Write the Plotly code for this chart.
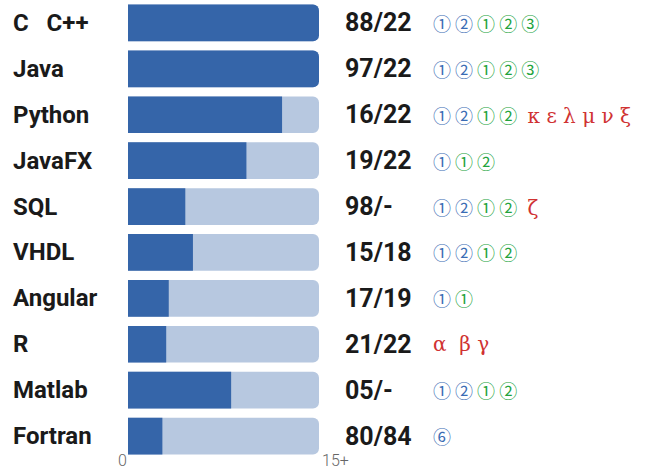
import plotly.graph_objects as go

languages = ["C&nbsp;&nbsp;&nbsp;C++", "Java", "Python", "JavaFX", "SQL", "VHDL", "Angular", "R", "Matlab", "Fortran"]
levels = [15, 15, 12.1, 9.3, 4.5, 5.1, 3.2, 3.0, 8.1, 2.7]
max_level = 15
ratios = ["88/22", "97/22", "16/22", "19/22", "98/-", "15/18", "17/19", "21/22", "05/-", "80/84"]
blue_marks = [["①", "②"], ["①", "②"], ["①", "②"], ["①"], ["①", "②"], ["①", "②"], ["①"], [], ["①", "②"], ["⑥"]]
green_marks = [["①", "②", "③"], ["①", "②", "③"], ["①", "②"], ["①", "②"], ["①", "②"], ["①", "②"], ["①"], [], ["①", "②"], []]
red_marks = [[], [], ["κ", "ε", "λ", "μ", "ν", "ξ"], [], ["ζ"], [], [], ["α", "&nbsp;β", "γ"], [], []]
axis_labels = ["0", "15+"]

DARK = "#3565a9"
LIGHT = "#b7c8e0"
BLUE = "#3a6cb4"
GREEN = "#22a33c"
RED = "#d03232"

W, H = 648, 470
x0, x1 = 128, 319

ys = list(range(len(languages)))

fig = go.Figure()
fig.add_trace(go.Bar(
    x=[max_level] * len(languages), y=ys, orientation="h",
    marker=dict(color=LIGHT, cornerradius=6, line=dict(width=0)),
    width=0.8, hoverinfo="skip", showlegend=False,
))
fig.add_trace(go.Bar(
    x=levels, y=ys, orientation="h",
    marker=dict(color=DARK, cornerradius=6, line=dict(width=0)),
    width=0.8, hoverinfo="skip", showlegend=False,
))

annotations = []
for i, lang in enumerate(languages):
    annotations.append(dict(
        x=11 / W, xref="paper", y=i, yref="y", text=lang, showarrow=False,
        xanchor="left", yanchor="middle",
        font=dict(family="Roboto", size=24, color="#1a1a1a", weight="bold"),
    ))
    annotations.append(dict(
        x=343 / W, xref="paper", y=i, yref="y", text=ratios[i], showarrow=False,
        xanchor="left", yanchor="middle",
        font=dict(family="Roboto", size=25, color="#1a1a1a", weight="bold"),
    ))
    parts = []
    for m in blue_marks[i]:
        parts.append(f'<span style="color:{BLUE}">{m}</span>')
    for m in green_marks[i]:
        parts.append(f'<span style="color:{GREEN}">{m}</span>')
    circ = " ".join(parts)
    greek = ""
    if red_marks[i]:
        lead = "&nbsp;" if circ else ""
        greek = (f'<span style="color:{RED};font-family:\'DejaVu Serif\';font-size:20px">'
                 + lead + " ".join(red_marks[i]) + "</span>")
    txt = circ + (" " if circ and greek else "") + greek
    if txt:
        annotations.append(dict(
            x=431 / W, xref="paper", y=i, yref="y", text=txt, showarrow=False,
            xanchor="left", yanchor="middle",
            font=dict(family="Noto Sans CJK SC", size=18, color=BLUE),
        ))

annotations.append(dict(
    x=0, xref="x", y=0, yref="paper", text=axis_labels[0], showarrow=False,
    xanchor="center", yanchor="middle", xshift=-6, yshift=-1,
    font=dict(family="Roboto", size=16, color="#666666", weight=300),
))
annotations.append(dict(
    x=max_level, xref="x", y=0, yref="paper", text=axis_labels[1], showarrow=False,
    xanchor="left", yanchor="middle", xshift=1, yshift=-1,
    font=dict(family="Roboto", size=16, color="#666666", weight=300),
))

fig.update_layout(
    width=W, height=H,
    margin=dict(l=0, r=0, t=0, b=11),
    paper_bgcolor="white", plot_bgcolor="white",
    barmode="overlay", bargap=0.2,
    xaxis=dict(domain=[x0 / W, x1 / W], range=[0, max_level], visible=False, fixedrange=True),
    yaxis=dict(range=[len(languages) - 0.5, -0.5], visible=False, fixedrange=True),
    annotations=annotations,
)

fig.write_html(
    "out.html",
    config={"displayModeBar": False},
    post_script="document.body.style.margin='0';document.body.style.overflow='hidden';",
)
